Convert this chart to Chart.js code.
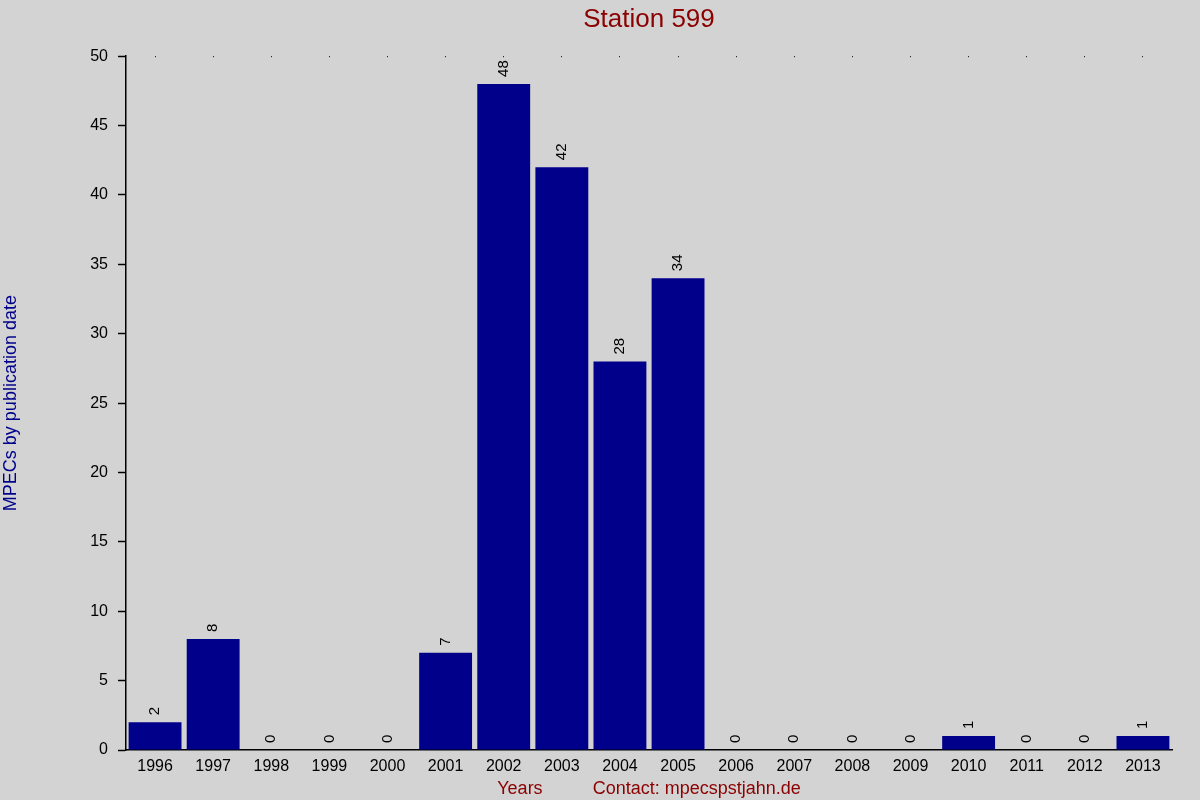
<!DOCTYPE html>
<html>
<head>
<meta charset="utf-8">
<script src="https://cdn.jsdelivr.net/npm/chart.js@4/dist/chart.umd.min.js"></script>
<style>
  html, body { margin: 0; padding: 0; background: #d3d3d3; }
  #wrap { width: 1200px; height: 800px; }
</style>
</head>
<body>
<div id="wrap"><canvas id="grafico"></canvas></div>
<script>
// Datos del gráfico
const years = ['1996', '1997', '1998', '1999', '2000', '2001', '2002', '2003', '2004',
               '2005', '2006', '2007', '2008', '2009', '2010', '2011', '2012', '2013'];
const mpecs = [2, 8, 0, 0, 0, 7, 48, 42, 28, 34, 0, 0, 0, 0, 1, 0, 0, 1];
const yTicks = [0, 5, 10, 15, 20, 25, 30, 35, 40, 45, 50];

const FONT = '"Liberation Sans", Arial, sans-serif';

// Etiquetas verticales encima de cada barra
const barLabels = {
    id: 'barLabels',
    afterDatasetsDraw(chart) {
        const ctx = chart.ctx;
        const meta = chart.getDatasetMeta(0);
        ctx.save();
        ctx.fillStyle = '#000';
        ctx.font = '15px ' + FONT;
        ctx.textAlign = 'left';
        ctx.textBaseline = 'middle';
        meta.data.forEach((bar, i) => {
            ctx.save();
            ctx.translate(bar.x, bar.y - 7);
            ctx.rotate(-Math.PI / 2);
            ctx.fillText(String(mpecs[i]), 0, 0);
            ctx.restore();
        });
        ctx.restore();
    }
};

const bgPlugin = {
    id: 'bg',
    beforeDraw(chart) {
        const ctx = chart.ctx;
        ctx.save();
        ctx.fillStyle = '#d3d3d3';
        ctx.fillRect(0, 0, chart.width, chart.height);
        ctx.restore();
    }
};

new Chart(document.getElementById('grafico').getContext('2d'), {
    type: 'bar',
    data: {
        labels: years,
        datasets: [{
            data: mpecs,
            backgroundColor: '#00008b',
            borderWidth: 0,
            barPercentage: 0.91,
            categoryPercentage: 1.0
        }]
    },
    options: {
        responsive: true,
        maintainAspectRatio: false,
        animation: false,
        layout: { padding: { left: 0, right: 28, top: 4, bottom: 0 } },
        plugins: {
            legend: { display: false },
            tooltip: { enabled: false },
            title: {
                display: true,
                text: 'Station 599',
                color: '#8b0000',
                fullSize: false,
                font: { family: FONT, size: 26, weight: 'normal' },
                padding: { top: 0, bottom: 21 }
            }
        },
        scales: {
            x: {
                offset: true,
                afterFit(scale) { scale.height = 50; },
                // el "dash" del borde se aplica a las líneas de la rejilla: solo un punto arriba
                border: { display: true, color: '#000', width: 1.5, dash: [1, 3000] },
                grid: {
                    offset: false,
                    drawTicks: false,
                    color: '#000',
                    lineWidth: 1
                },
                ticks: {
                    color: '#000',
                    font: { family: FONT, size: 16 },
                    padding: 7,
                    maxRotation: 0,
                    autoSkip: false
                },
                title: {
                    display: true,
                    text: 'Years          Contact: mpecspstjahn.de',
                    color: '#8b0000',
                    font: { family: FONT, size: 18 },
                    padding: { top: 0, bottom: 0 }
                }
            },
            y: {
                min: 0,
                max: 50,
                afterFit(scale) { scale.width = 126; },
                afterBuildTicks(scale) { scale.ticks = yTicks.map(v => ({ value: v })); },
                border: { display: true, color: '#000', width: 1.5 },
                grid: {
                    drawOnChartArea: false,
                    drawTicks: true,
                    tickLength: 8,
                    tickColor: '#000',
                    tickWidth: 1.5
                },
                ticks: {
                    color: '#000',
                    font: { family: FONT, size: 16 },
                    padding: 10
                },
                title: {
                    display: true,
                    text: 'MPECs by publication date',
                    color: '#00008b',
                    font: { family: FONT, size: 18 },
                    padding: { top: 0, bottom: 0 }
                }
            }
        }
    },
    plugins: [bgPlugin, barLabels]
});
</script>
</body>
</html>
